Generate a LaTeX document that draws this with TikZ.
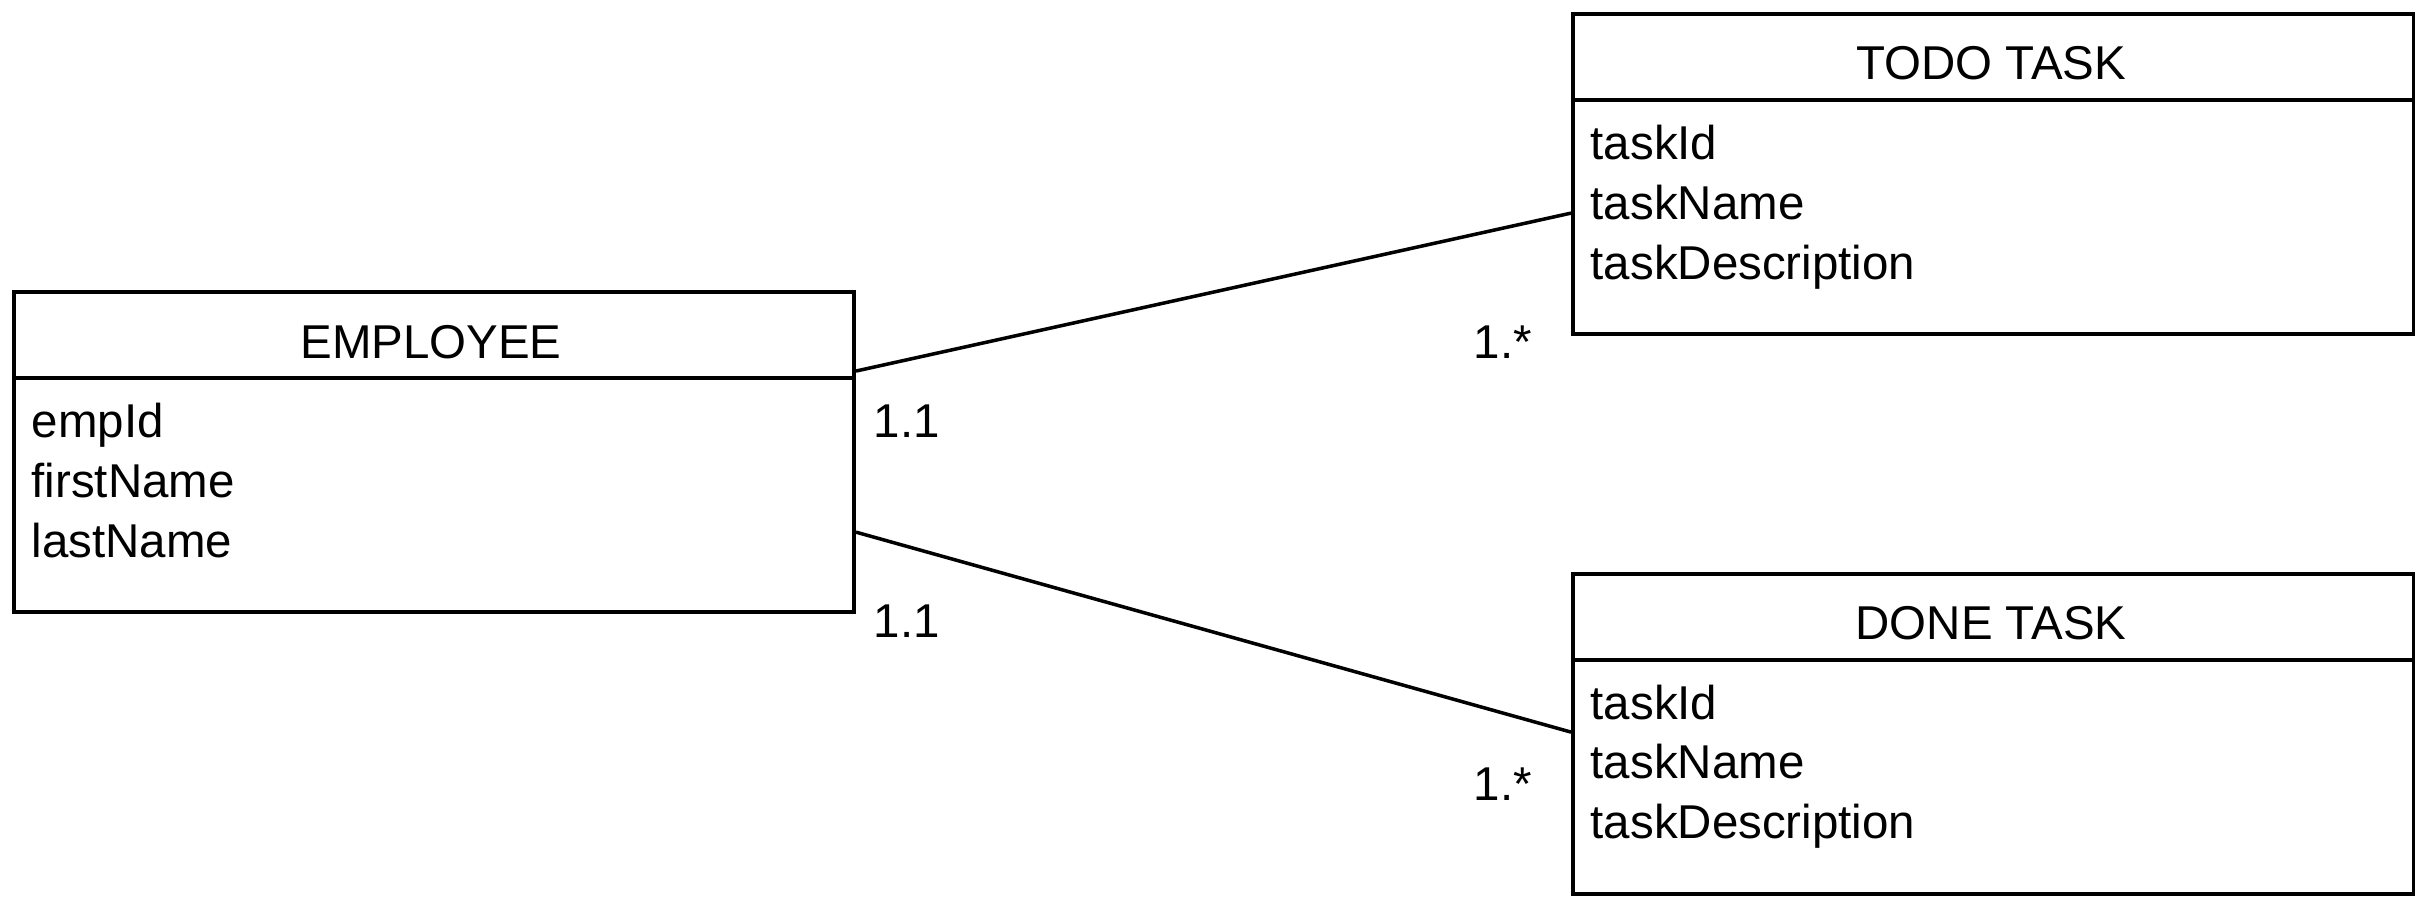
\documentclass[tikz,border=0pt]{standalone}
\usepackage{fontspec}
\setmainfont{Liberation Sans}
\begin{document}
\begin{tikzpicture}[x=0.01cm,y=-0.01cm,
  box/.style={draw=black,line width=1pt,minimum width=8.40cm,minimum height=3.2cm,inner sep=0pt,anchor=north west},
  txt/.style={inner sep=0pt,font=\fontsize{13.5}{16}\selectfont},
  sep/.style={draw=black,line width=1pt},
  conn/.style={draw=black,line width=1pt}]
\useasboundingbox (0,0) rectangle (2420,900);
\fill[white] (0,0) rectangle (2420,900);
% boxes
\node[box] (emp) at (12,290) {};
\node[box] (todo) at (1571,12) {};
\node[box] (done) at (1571,572) {};
% header separators
\draw[sep] ([yshift=-0.88cm]emp.north west) -- ([yshift=-0.88cm]emp.north east);
\draw[sep] ([yshift=-0.88cm]todo.north west) -- ([yshift=-0.88cm]todo.north east);
\draw[sep] ([yshift=-0.88cm]done.north west) -- ([yshift=-0.88cm]done.north east);
% headers
\node[txt,anchor=base] (empH) at (431,358) {EMPLOYEE};
\node[txt,anchor=base] (todoH) at (1991,79) {TODO TASK};
\node[txt,anchor=base] (doneH) at (1991,639) {DONE TASK};
% attributes
\node[txt,anchor=base west] (e1) at (31,437) {empId};
\node[txt,anchor=base west] (e2) at (31,497) {firstName};
\node[txt,anchor=base west] (e3) at (31,557) {lastName};
\node[txt,anchor=base west] (t1) at (1590,159) {taskId};
\node[txt,anchor=base west] (t2) at (1590,219) {taskName};
\node[txt,anchor=base west] (t3) at (1590,279) {taskDescription};
\node[txt,anchor=base west] (d1) at (1590,719) {taskId};
\node[txt,anchor=base west] (d2) at (1590,778) {taskName};
\node[txt,anchor=base west] (d3) at (1590,838) {taskDescription};
% connectors
\draw[conn] ([yshift=-0.81cm]emp.north east) -- ([yshift=-2.01cm]todo.north west);
\draw[conn] ([yshift=-2.42cm]emp.north east) -- ([yshift=-1.60cm]done.north west);
% multiplicities
\node[txt,anchor=base west] (m1) at (873,437) {1.1};
\node[txt,anchor=base west] (m2) at (873,637) {1.1};
\node[txt,anchor=base west] (m3) at (1473,358) {1.*};
\node[txt,anchor=base west] (m4) at (1473,800) {1.*};
\end{tikzpicture}
\end{document}
